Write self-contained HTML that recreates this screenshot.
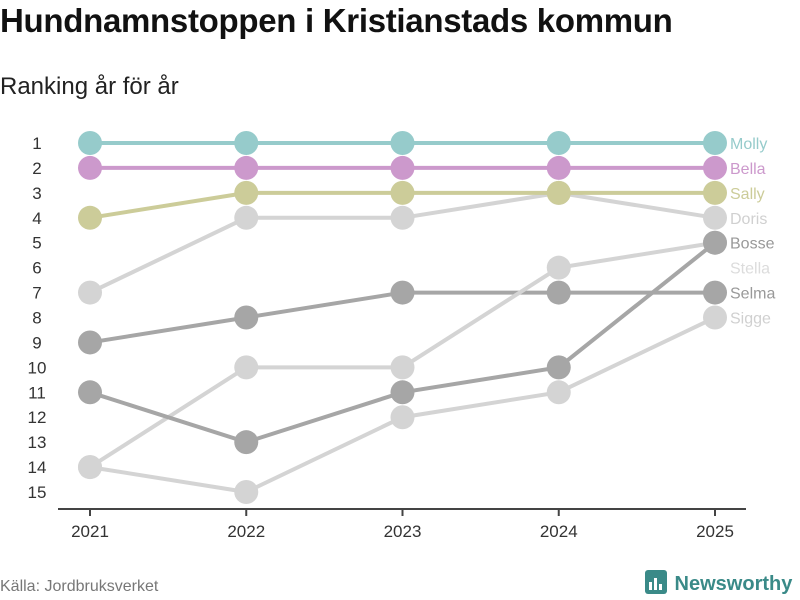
<!DOCTYPE html>
<html><head><meta charset="utf-8">
<style>
body{margin:0;width:800px;height:600px;background:#fff;font-family:"Liberation Sans","DejaVu Sans",sans-serif;overflow:hidden;position:relative}
#title{position:absolute;left:0;top:2px;font-size:33px;font-weight:bold;color:#111;margin:0;letter-spacing:-0.3px}
#sub{position:absolute;left:0;top:73px;font-size:24px;color:#222}
#src{position:absolute;left:0;top:578px;font-size:16px;color:#777}
#logo{position:absolute;left:645px;top:570px;font-size:20px;font-weight:bold;color:#3a8a88}
</style></head><body>
<h1 id="title">Hundnamnstoppen i Kristianstads kommun</h1>
<div id="sub">Ranking år för år</div>
<svg id="chart" width="800" height="600" style="position:absolute;left:0;top:0"></svg>
<div id="src">Källa: Jordbruksverket</div>
<div id="logo"><svg width="24" height="24" style="vertical-align:-4px" viewBox="0 0 24 24"><rect x="0" y="0" width="22" height="24" rx="3" fill="#3a8a88"/><rect x="4" y="12" width="3" height="8" fill="#fff"/><rect x="9" y="8" width="3" height="12" fill="#fff"/><rect x="14" y="14" width="3" height="6" fill="#fff"/></svg> Newsworthy</div>
<script>
const years=[2021,2022,2023,2024,2025];
const names=["Molly","Bella","Sally","Doris","Bosse","Stella","Selma","Sigge"];
const molly=[1,1,1,1,1];
const bella=[2,2,2,2,2];
const sally=[4,3,3,3,3];
const doris=[7,4,4,3,4];
const bosse=[11,13,11,10,5];
const stella=[14,10,10,6,5];
const selma=[9,8,7,7,7];
const sigge=[14,15,12,11,8];
const labelRanks=[1,2,3,4,5,6,7,8];
const colors=["#96cbcb","#cc99cc","#cccc99","#d4d4d4","#a6a6a6","#d4d4d4","#a6a6a6","#d4d4d4"];
const labelColors=["#96cbcb","#cc99cc","#cccc99","#d0d0d0","#999","#dcdcdc","#999","#d0d0d0"];
const series=[molly,bella,sally,doris,bosse,stella,selma,sigge];
const svg=document.getElementById('chart');
const NS="http://www.w3.org/2000/svg";
const x=i=>90+i*156.25;
const y=r=>143+(r-1)*24.93;
function el(t,a){const e=document.createElementNS(NS,t);for(const k in a)e.setAttribute(k,a[k]);svg.appendChild(e);return e;}
for(let r=1;r<=15;r++){const t=el('text',{x:37,y:y(r)+6,'text-anchor':'middle','font-size':17,fill:'#333','font-family':'Liberation Sans, sans-serif'});t.textContent=r;

}
const ax=el('line',{x1:58,x2:746,y1:509,y2:509,stroke:'#444','stroke-width':2});


years.forEach((yr,i)=>{const tk=el('line',{x1:x(i),x2:x(i),y1:509,y2:516,stroke:'#444','stroke-width':2});


const t=el('text',{x:x(i),y:537,'text-anchor':'middle','font-size':17,fill:'#333','font-family':'Liberation Sans, sans-serif'});t.textContent=yr;

});
for(let s=series.length-1;s>=0;s--){
const d=series[s];
const p=el('polyline',{points:d.map((v,i)=>x(i)+','+y(v)).join(' '),fill:'none',stroke:colors[s],'stroke-width':4});


d.forEach((v,i)=>{const c=el('circle',{cx:x(i),cy:y(v),r:12,fill:colors[s]});

});
const lb=el('text',{x:730,y:y(labelRanks[s])+6,'font-size':16,fill:labelColors[s],'font-family':'Liberation Sans, sans-serif'});lb.textContent=names[s];


}
</script>
</body></html>
